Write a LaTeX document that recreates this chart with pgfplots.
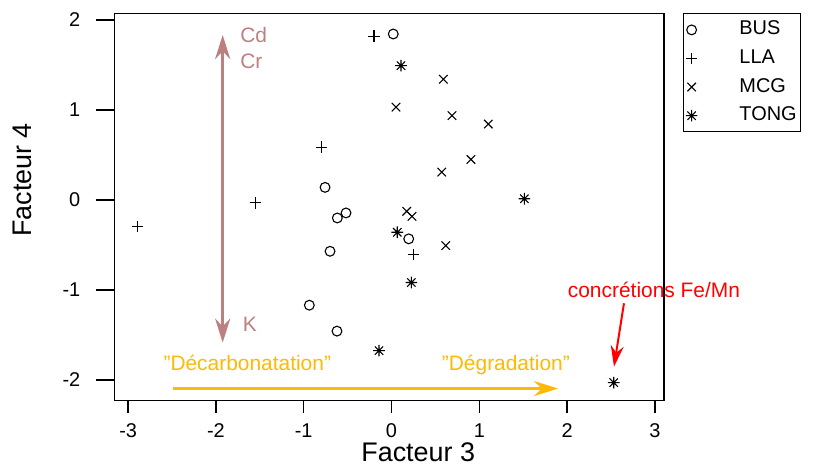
\documentclass[border=0pt]{standalone}
\usepackage{fontspec}
\setmainfont{Liberation Sans}
\usepackage{pgfplots}
\pgfplotsset{compat=1.18}
\usetikzlibrary{arrows.meta}
\definecolor{rosy}{RGB}{188,128,128}
\definecolor{gold}{RGB}{255,185,0}
% R pch 8: plus and cross on top of each other
\pgfdeclareplotmark{ast8}{%
  \pgfpathmoveto{\pgfqpoint{-\pgfplotmarksize}{0pt}}%
  \pgfpathlineto{\pgfqpoint{\pgfplotmarksize}{0pt}}%
  \pgfpathmoveto{\pgfqpoint{0pt}{-\pgfplotmarksize}}%
  \pgfpathlineto{\pgfqpoint{0pt}{\pgfplotmarksize}}%
  \pgfpathmoveto{\pgfqpoint{-.72\pgfplotmarksize}{-.72\pgfplotmarksize}}%
  \pgfpathlineto{\pgfqpoint{.72\pgfplotmarksize}{.72\pgfplotmarksize}}%
  \pgfpathmoveto{\pgfqpoint{-.72\pgfplotmarksize}{.72\pgfplotmarksize}}%
  \pgfpathlineto{\pgfqpoint{.72\pgfplotmarksize}{-.72\pgfplotmarksize}}%
  \pgfusepathqstroke}
\newcommand{\q}{\symbol{34}}
\begin{document}
\begin{tikzpicture}
\useasboundingbox (-114.7bp,-65.3bp) rectangle (709.3bp,400.7bp);
\begin{axis}[
  scale only axis, width=549.3bp, height=387.4bp,
  at={(0,0)}, anchor=south west,
  xmin=-3.153, xmax=3.104, ymin=-2.230, ymax=2.074,
  xtick={-3,...,3}, ytick={-2,...,2},
  tick align=outside, tick pos=left,
  axis line style={line width=1.5bp},
  every tick/.style={black, line width=1.5bp},
  xtick style={/pgfplots/major tick length=12.5bp},
  ytick style={/pgfplots/major tick length=19bp},
  /pgf/number format/assume math mode=true,
  ticklabel style={font=\fontsize{20}{24}\selectfont, inner sep=0pt},
  xticklabel style={yshift=-18bp, text height=14.3bp, text depth=0pt},
  yticklabel style={xshift=-30bp},
  xlabel={Facteur 3}, ylabel={Facteur 4},
  label style={font=\fontsize{27}{32}\selectfont, inner sep=0pt, text height=19bp, text depth=0pt},
  xlabel style={at={(axis description cs:0.5525,0)}, anchor=base, yshift=-60.5bp},
  ylabel style={at={(axis description cs:-0.1517,0.5697)}, anchor=base, rotate=0},
  clip=false,
  legend style={at={(axis description cs:1.035,1)}, anchor=north west,
    draw=black, line width=1.2bp, font=\fontsize{20}{24}\selectfont,
    inner xsep=2bp, inner ysep=5bp, row sep=6.6bp,
    nodes={inner sep=2bp, text height=14bp, text depth=4bp},
    /tikz/every odd column/.append style={column sep=40bp}},
  legend cell align=left,
  legend image code/.code={\draw[mark repeat=2,mark phase=2] plot coordinates {(0bp,0bp)(10bp,0bp)(20bp,0bp)};},
  every axis plot/.append style={black, line width=1.1bp},
]
\addplot[only marks, mark=o, mark size=4.9bp] coordinates {
  (0.020,1.844) (-0.757,0.140) (-0.617,-0.200) (-0.518,-0.144)
  (-0.700,-0.570) (-0.936,-1.169) (-0.621,-1.457) (0.196,-0.432)
};
\addlegendentry{BUS}
\addplot[only marks, mark=+, mark size=5.6bp] coordinates {
  (-0.199,1.821) (-0.795,0.588) (-1.551,-0.033) (-2.891,-0.299) (0.248,-0.610)
};
\addlegendentry{LLA}
\addplot[only marks, mark=x, mark size=6bp] coordinates {
  (0.590,1.341) (0.051,1.031) (0.689,0.938) (1.103,0.843) (0.905,0.450)
  (0.572,0.310) (0.173,-0.126) (0.233,-0.182) (0.617,-0.507)
};
\addlegendentry{MCG}
\addplot[only marks, mark=ast8, mark size=5.8bp] coordinates {
  (0.108,1.492) (1.513,0.014) (0.066,-0.359) (0.226,-0.917)
  (-0.142,-1.674) (2.531,-2.029)
};
\addlegendentry{TONG}
% annotations
\draw[rosy, line width=3.5bp, {Stealth[length=24bp,width=15bp]}-{Stealth[length=24bp,width=15bp]}]
  (axis cs:-1.923,-1.585) -- (axis cs:-1.923,1.833);
\node[rosy, anchor=base west, inner sep=0pt, font=\fontsize{21}{25}\selectfont] at (axis cs:-1.724,1.747) {Cd};
\node[rosy, anchor=base west, inner sep=0pt, font=\fontsize{21}{25}\selectfont] at (axis cs:-1.724,1.463) {Cr};
\node[rosy, anchor=base west, inner sep=0pt, font=\fontsize{21}{25}\selectfont] at (axis cs:-1.695,-1.457) {K};
\draw[gold, line width=3.5bp, -{Stealth[length=24bp,width=15bp]}]
  (axis cs:-2.485,-2.095) -- (axis cs:1.897,-2.095);
\node[gold, anchor=base west, inner sep=0pt, font=\fontsize{21}{25}\selectfont] at (axis cs:-2.599,-1.900) {\q Décarbonatation\q};
\node[gold, anchor=base west, inner sep=0pt, font=\fontsize{21}{25}\selectfont] at (axis cs:0.572,-1.892) {\q Dégradation\q};
\node[red, anchor=base west, inner sep=0pt, font=\fontsize{21}{25}\selectfont] at (axis cs:2.007,-1.087) {concrétions Fe/Mn};
\draw[red, line width=2bp, -{Stealth[length=21bp,width=13bp]}]
  (axis cs:2.648,-1.148) -- (axis cs:2.534,-1.852);
\end{axis}
\end{tikzpicture}
\end{document}
